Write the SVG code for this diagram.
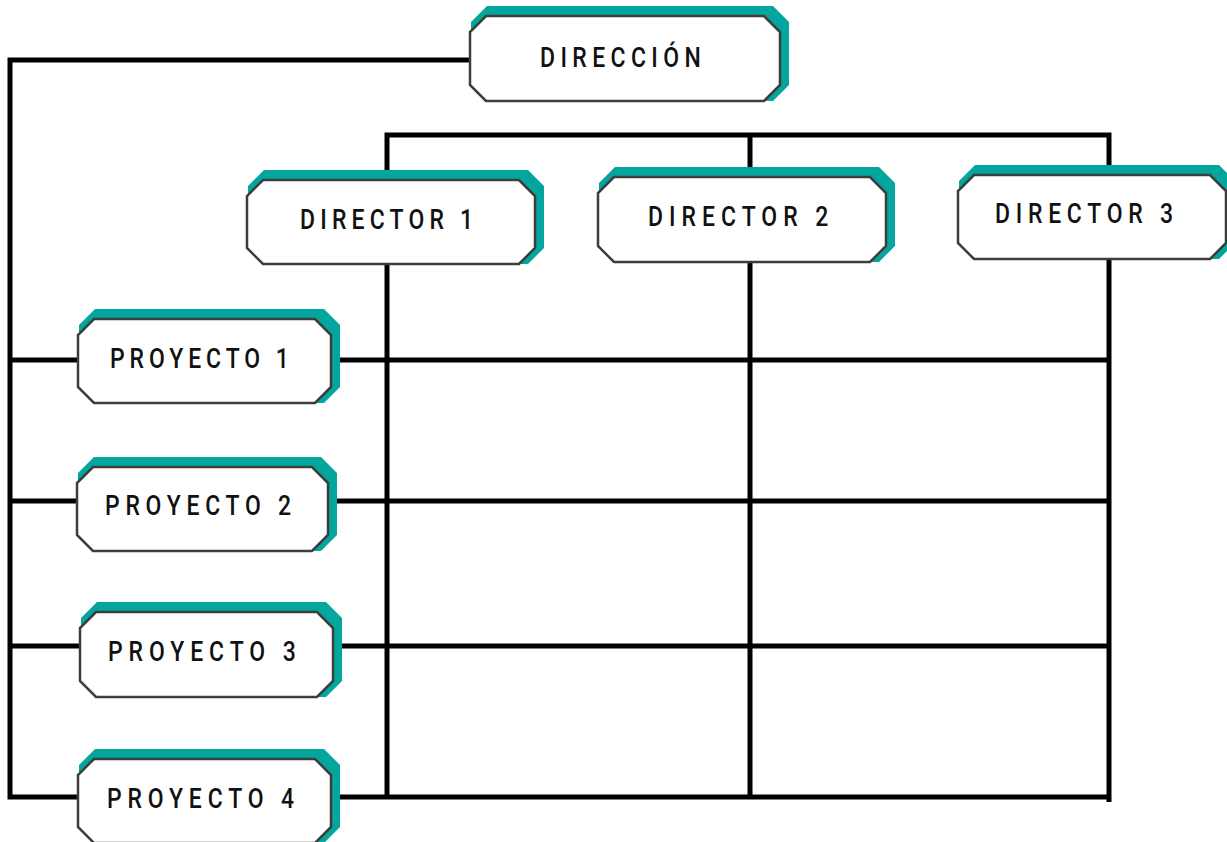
<svg xmlns="http://www.w3.org/2000/svg" width="1227" height="842" viewBox="0 0 1227 842">
  <style>
    .line { fill: none; stroke: #000; stroke-width: 5; stroke-linejoin: miter; }
    .shadow { fill: #02a69f; }
    .box { fill: #fff; stroke: #3d3d3b; stroke-width: 2.5; stroke-linejoin: miter; }
    .label { font-family: "Roboto", "Liberation Sans", sans-serif; font-weight: 500; font-size: 28px; fill: #111; }
  </style>
  <rect width="1227" height="842" fill="#fff"/>

  <!-- connectors: management link, project rows and director columns -->
  <g id="connectors">
    <path class="line" d="M470,60 H10 V797 H1109"/>
    <path class="line" d="M387,797 V135 H1109 V802"/>
    <path class="line" d="M750,135 V797"/>
    <path class="line" d="M10,360 H1109"/>
    <path class="line" d="M10,501 H1109"/>
    <path class="line" d="M10,646 H1109"/>
  </g>

  <!-- labels are condensed horizontally to a narrow, tall letterform -->
  <g id="direccion">
    <polygon class="shadow" points="487,6 773,6 789,22 789,85 773,101 487,101 471,85 471,22"/>
    <polygon class="box" points="486,16 764,16 780,32 780,85 764,101 486,101 470,85 470,32"/>
    <text class="label" transform="translate(540,67) scale(0.82,1)" textLength="196" lengthAdjust="spacing">DIRECCIÓN</text>
  </g>

  <g id="director-1">
    <polygon class="shadow" points="264,170 528,170 544,186 544,248 528,264 264,264 248,248 248,186"/>
    <polygon class="box" points="263,180 519,180 535,196 535,248 519,264 263,264 247,248 247,196"/>
    <text class="label" transform="translate(300,229) scale(0.82,1)" textLength="211" lengthAdjust="spacing">DIRECTOR 1</text>
  </g>

  <g id="director-2">
    <polygon class="shadow" points="615,167 879,167 895,183 895,246 879,262 615,262 599,246 599,183"/>
    <polygon class="box" points="614,177 870,177 886,193 886,246 870,262 614,262 598,246 598,193"/>
    <text class="label" transform="translate(648,226) scale(0.82,1)" textLength="220" lengthAdjust="spacing">DIRECTOR 2</text>
  </g>

  <g id="director-3">
    <polygon class="shadow" points="975,165 1219,165 1235,181 1235,243 1219,259 975,259 959,243 959,181"/>
    <polygon class="box" points="974,175 1210,175 1226,191 1226,243 1210,259 974,259 958,243 958,191"/>
    <text class="label" transform="translate(995,223) scale(0.82,1)" textLength="217" lengthAdjust="spacing">DIRECTOR 3</text>
  </g>

  <g id="proyecto-1">
    <polygon class="shadow" points="95,309 324,309 340,325 340,387 324,403 95,403 79,387 79,325"/>
    <polygon class="box" points="94,319 315,319 331,335 331,387 315,403 94,403 78,387 78,335"/>
    <text class="label" transform="translate(110,368) scale(0.82,1)" textLength="218" lengthAdjust="spacing">PROYECTO 1</text>
  </g>

  <g id="proyecto-2">
    <polygon class="shadow" points="94,457 321,457 337,473 337,535 321,551 94,551 78,535 78,473"/>
    <polygon class="box" points="93,467 312,467 328,483 328,535 312,551 93,551 77,535 77,483"/>
    <text class="label" transform="translate(105,515) scale(0.82,1)" textLength="227" lengthAdjust="spacing">PROYECTO 2</text>
  </g>

  <g id="proyecto-3">
    <polygon class="shadow" points="97,602 326,602 342,618 342,681 326,697 97,697 81,681 81,618"/>
    <polygon class="box" points="96,612 317,612 333,628 333,681 317,697 96,697 80,681 80,628"/>
    <text class="label" transform="translate(108,661) scale(0.82,1)" textLength="229" lengthAdjust="spacing">PROYECTO 3</text>
  </g>

  <g id="proyecto-4">
    <polygon class="shadow" points="95,749 324,749 340,765 340,827 324,843 95,843 79,827 79,765"/>
    <polygon class="box" points="94,759 315,759 331,775 331,827 315,843 94,843 78,827 78,775"/>
    <text class="label" transform="translate(107,808) scale(0.82,1)" textLength="228" lengthAdjust="spacing">PROYECTO 4</text>
  </g>
</svg>
